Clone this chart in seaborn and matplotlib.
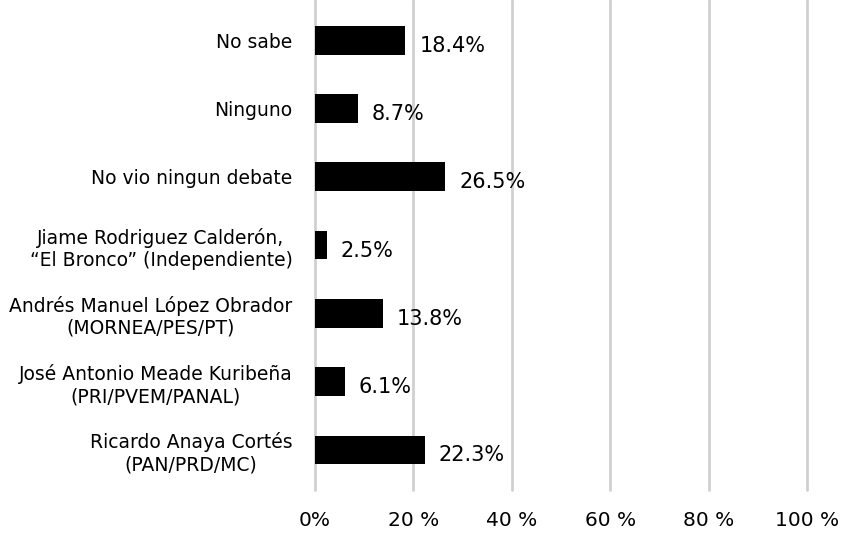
import pandas as pd
import seaborn as sns
import matplotlib.pyplot as plt

categories = [
    "No sabe",
    "Ninguno",
    "No vio ningun debate",
    "Jiame Rodriguez Calderón,\n\u201cEl Bronco\u201d (Independiente)",
    "Andrés Manuel López Obrador\n(MORNEA/PES/PT)",
    "José Antonio Meade Kuribeña\n(PRI/PVEM/PANAL)",
    "Ricardo Anaya Cortés\n(PAN/PRD/MC)",
]
values = [18.4, 8.7, 26.5, 2.5, 13.8, 6.1, 22.3]
tick_values = [0, 20, 40, 60, 80, 100]
tick_labels = ["0%", "20 %", "40 %", "60 %", "80 %", "100 %"]

df = pd.DataFrame({"cat": categories, "val": values})

sns.set_style("white")
plt.rcParams["font.family"] = ["DejaVu Sans"]
plt.rcParams["text.color"] = "black"

fig = plt.figure(figsize=(8.46, 5.34), dpi=100)
ax = fig.add_axes([0.372, 0.082, 0.582, 0.918])

sns.barplot(data=df, x="val", y="cat", color="black", width=0.42,
            saturation=1, linewidth=0, ax=ax, zorder=3)

for i, v in enumerate(values):
    ax.annotate(f"{v}%", (v, i), xytext=(10, -4), textcoords="offset points",
                va="center", ha="left", fontsize=15, color="black")

ax.set_xlim(0, 100)
ax.set_ylim(6.59, -0.59)
ax.set_xticks(tick_values)
ax.set_xticklabels(tick_labels, fontsize=14.5)
ax.tick_params(axis="x", length=0, pad=15, labelcolor="black")
ax.tick_params(axis="y", length=0, pad=16, labelsize=13.5, labelcolor="black")
for lbl in ax.get_yticklabels():
    lbl.set_horizontalalignment("right")
    lbl.set_multialignment("center")
ax.grid(axis="x", color="#d0d0d0", linewidth=2, zorder=0)
for gl in ax.get_xgridlines():
    gl.set_clip_on(False)
ax.set_xlabel("")
ax.set_ylabel("")
sns.despine(ax=ax, left=True, bottom=True)

fig.savefig("out.png", dpi=100)
